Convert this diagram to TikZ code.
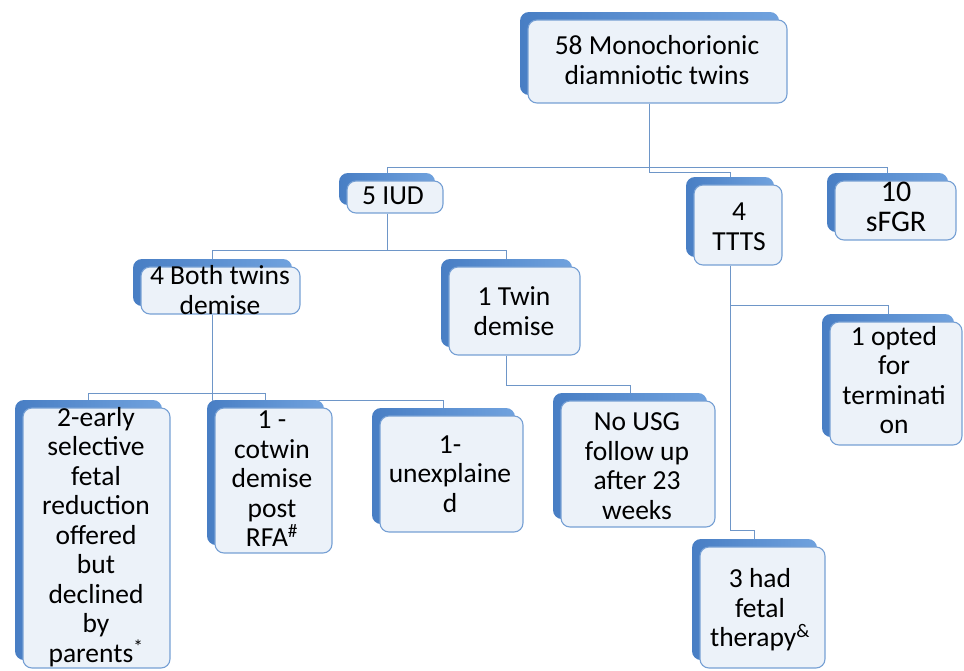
\documentclass[tikz,border=0pt]{standalone}
\usepackage{fontspec}
\setmainfont{Carlito}
\usetikzlibrary{shadows,backgrounds,calc}
\definecolor{backblue}{RGB}{88,140,205}
\definecolor{backdark}{RGB}{72,126,196}
\definecolor{backlight}{RGB}{112,162,222}
\definecolor{frontfill}{RGB}{236,242,249}
\definecolor{frontdraw}{RGB}{118,160,212}
\definecolor{linecol}{RGB}{110,150,200}
\begin{document}
\begin{tikzpicture}[x=1pt,y=-1pt,
  box/.style={rectangle, rounded corners=9pt, draw=frontdraw, line width=1.1pt,
    fill=frontfill, inner sep=0pt,
    copy shadow={shadow xshift=-8pt, shadow yshift=8pt, left color=backdark, right color=backlight, draw=none}},
  txt/.style={align=center, inner sep=0pt, font=\fontsize{27.5}{29.5}\selectfont},
  conn/.style={draw=linecol, line width=1pt}]
\useasboundingbox (0,0) rectangle (964,670);
% boxes
\node[box, minimum width=259pt, minimum height=83pt] (top) at (657.5,61.5) {};
\node[box, minimum width=96pt, minimum height=32pt] (iud) at (395,197) {};
\node[box, minimum width=88pt, minimum height=80pt] (ttts) at (738,225) {};
\node[box, minimum width=121pt, minimum height=59pt] (sfgr) at (895.5,210.5) {};
\node[box, minimum width=159pt, minimum height=47pt] (both) at (220.5,290.5) {};
\node[box, minimum width=131pt, minimum height=88pt] (twin) at (514.5,311) {};
\node[box, minimum width=132pt, minimum height=123pt] (opted) at (896,383.5) {};
\node[box, minimum width=147pt, minimum height=260pt] (early) at (96.5,538) {};
\node[box, minimum width=117pt, minimum height=145pt] (cotwin) at (273.5,480.5) {};
\node[box, minimum width=143pt, minimum height=116pt] (unexpl) at (451.5,474) {};
\node[box, minimum width=154pt, minimum height=126pt] (usg) at (638,464) {};
\node[box, minimum width=125pt, minimum height=121pt] (ther) at (762.5,607.5) {};
% texts
\node[txt] (topT) at (657,60) {58 Monochorionic\\diamniotic twins};
\node[txt] (iudT) at (393,196) {5 IUD};
\node[txt] (tttsT) at (739,227) {4\\TTTS};
\node[txt, font=\fontsize{30}{30}\selectfont] (sfgrT) at (896,207) {10\\sFGR};
\node[txt] (bothT) at (220,290) {4 Both twins\\demise};
\node[txt] (twinT) at (514,311) {1 Twin\\demise};
\node[txt] (optedT) at (894,380) {1 opted\\for\\terminati\\on};
\node[txt] (earlyT) at (96,537) {2-early\\selective\\fetal\\reduction\\offered\\but\\declined\\by\\parents\textsuperscript{*}};
\node[txt] (cotwinT) at (272,479) {1 -\\cotwin\\demise\\post\\RFA\textsuperscript{\#}};
\node[txt] (unexplT) at (450,474) {1-\\unexplaine\\d};
\node[txt] (usgT) at (637,466) {No USG\\follow up\\after 23\\weeks};
\node[txt] (therT) at (760,610) {3 had\\fetal\\therapy\textsuperscript{\&}};
% connectors
\begin{scope}[on background layer]
\draw[conn] ([xshift=-8pt]top.south) -- ++(0,64) -| ([xshift=-8pt]iud.north);
\draw[conn] ([xshift=-8pt]top.south) -- ++(0,64) -| ([xshift=-8pt]sfgr.north);
\draw[conn] ([xshift=-8pt]top.south) -- ++(0,69) -| ([xshift=-8pt]ttts.north);
\draw[conn] ([xshift=-8pt]iud.south) -- ++(0,37) -| ([xshift=-8pt]both.north);
\draw[conn] ([xshift=-8pt]iud.south) -- ++(0,37) -| ([xshift=-8pt]twin.north);
\draw[conn] ([xshift=-8pt]both.south) -- ++(0,79) -| ([xshift=-8pt]early.north);
\draw[conn] ([xshift=-8pt]both.south) -- ++(0,79) -| ([xshift=-8pt]cotwin.north);
\draw[conn] ([xshift=-8pt]both.south) -- ++(0,86) -| ([xshift=-8pt]unexpl.north);
\draw[conn] ([xshift=-8pt]twin.south) -- ++(0,30) -| ([xshift=-8pt]usg.north);
\draw[conn] ([xshift=-8pt]ttts.south) -- ++(0,40) -| ([xshift=-8pt]opted.north);
\draw[conn] ([xshift=-8pt]ttts.south) -- ++(0,265) -| ([xshift=-8pt]ther.north);
\end{scope}
\end{tikzpicture}
\end{document}
